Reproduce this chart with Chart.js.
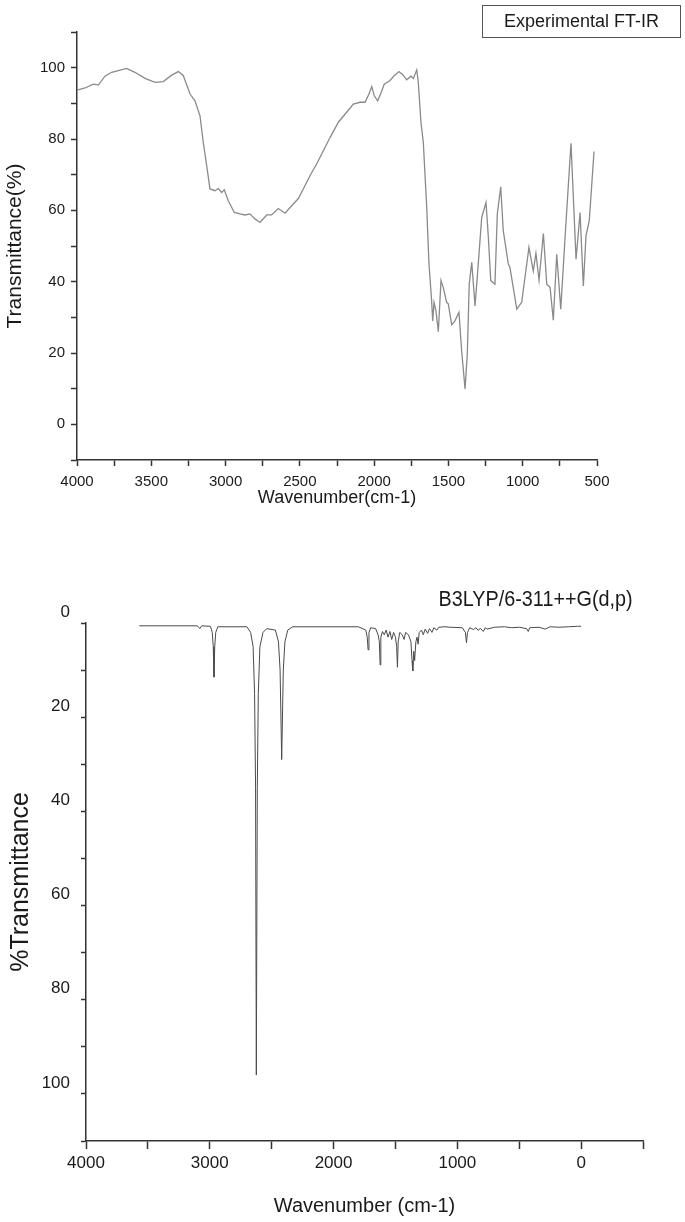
<!DOCTYPE html>
<html>
<head>
<meta charset="utf-8">
<script src="https://cdn.jsdelivr.net/npm/chart.js@4.4.1/dist/chart.umd.min.js"></script>
<style>
  body { margin: 0; width: 685px; height: 1222px; background: #fff; position: relative; overflow: hidden; }
  canvas { position: absolute; left: 0; }
  #legendBox {
    position: absolute; left: 482px; top: 5px; width: 197px; height: 31px;
    border: 1px solid #555; box-sizing: content-box;
    font: 18px "Liberation Sans", Arial, sans-serif; color: #1a1a1a;
    display: flex; align-items: center; justify-content: center;
  }
  #calcLabel {
    position: absolute; right: 52px; top: 586px;
    font: 22px "Liberation Sans", Arial, sans-serif; color: #1a1a1a;
    white-space: nowrap; transform: scaleX(0.9); transform-origin: right center;
  }
</style>
</head>
<body>
<canvas id="expChart" width="685" height="520" style="top:0"></canvas>
<canvas id="calcChart" width="685" height="682" style="top:540px"></canvas>
<div id="legendBox">Experimental FT-IR</div>
<div id="calcLabel">B3LYP/6-311++G(d,p)</div>
<script>
// experimental FT-IR
var expWavenumber = [4000, 3946, 3890, 3856, 3812, 3767, 3722, 3666, 3610, 3542, 3475, 3419, 3363, 3318, 3285,
  3239, 3206, 3172, 3150, 3127, 3105, 3071, 3049, 3026, 3009, 2982, 2941, 2903, 2869, 2836, 2802, 2768,
  2723, 2690, 2645, 2600, 2555, 2510, 2477, 2432, 2387, 2342, 2297, 2241, 2185, 2140, 2095, 2061, 2035,
  2016, 1999, 1976, 1954, 1932, 1893, 1864, 1833, 1804, 1781, 1752, 1736, 1713, 1703, 1685, 1669, 1646,
  1631, 1613, 1606, 1597, 1584, 1568, 1550, 1535, 1512, 1501, 1478, 1456, 1429, 1411, 1388, 1373, 1360,
  1343, 1321, 1306, 1276, 1247, 1232, 1215, 1187, 1171, 1148, 1131, 1097, 1086, 1040, 1007, 958, 929,
  911, 890, 861, 838, 816, 794, 771, 744, 715, 675, 641, 614, 592, 574, 552, 520];
var expTransmittance = [93.7, 94.3, 95.4, 95.1, 97.6, 98.7, 99.2, 99.8, 98.7, 97.0, 95.9, 96.1, 97.9, 98.9, 97.8,
  92.6, 90.7, 86.5, 79.0, 72.5, 66.0, 65.5, 66.1, 65.0, 65.8, 62.7, 59.4, 59.0, 58.7, 59.0, 57.6, 56.6,
  58.7, 58.7, 60.5, 59.2, 61.3, 63.3, 66.0, 69.7, 73.0, 76.7, 80.4, 84.7, 87.5, 89.8, 90.3, 90.3, 92.6,
  94.7, 92.1, 90.7, 92.9, 95.4, 96.4, 97.8, 98.9, 97.9, 96.6, 97.6, 97.0, 99.4, 95.9, 84.7, 79.0, 60.8,
  45.0, 34.6, 29.0, 34.2, 31.8, 26.0, 40.3, 38.4, 34.2, 33.8, 27.9, 29.0, 31.4, 20.6, 9.9, 19.7, 39.3,
  45.4, 33.2, 41.2, 58.0, 62.2, 52.9, 40.3, 39.3, 59.0, 66.6, 54.3, 45.0, 44.0, 32.3, 34.2, 49.6, 43.0,
  47.9, 40.4, 53.5, 39.3, 38.4, 29.2, 47.7, 32.3, 52.4, 78.8, 46.3, 59.4, 38.8, 52.9, 57.1, 76.5];

// calculated B3LYP spectrum
var calcWavenumber = [3570, 3100, 3080, 3065, 2995, 2980, 2972, 2966, 2960, 2952, 2935, 2700, 2670, 2650,
  2638, 2630, 2624, 2616, 2608, 2595, 2570, 2540, 2470, 2445, 2432, 2419, 2406, 2393, 2370, 2330, 1800,
  1740, 1728, 1721, 1714, 1700, 1660, 1640, 1630, 1624, 1618, 1605, 1590, 1575, 1560, 1545, 1530, 1515,
  1500, 1490, 1484, 1478, 1465, 1445, 1430, 1418, 1395, 1375, 1366, 1360, 1352, 1345, 1335, 1325, 1317,
  1308, 1290, 1275, 1260, 1240, 1225, 1205, 1190, 1165, 1150, 1100, 1060, 960, 935, 926, 918, 900, 870,
  850, 830, 815, 790, 775, 760, 700, 620, 560, 500, 440, 427, 415, 340, 290, 250, 180, 100, 30, 0];
var calcTransmittance = [0.6, 0.6, 1.2, 0.6, 0.7, 2, 5, 11.5, 5, 2, 0.8, 0.8, 2, 5,
  15, 35, 96, 35, 15, 5, 2, 1.2, 1.5, 4, 10, 29, 10, 4, 1.5, 0.8, 0.8,
  1.5, 3, 5.7, 2, 1, 1.2, 2.5, 4, 8.9, 3, 1.8, 2.5, 1.5, 3, 1.8, 3.5, 2,
  3, 5, 9.4, 4, 2, 2.5, 3.5, 2, 2.5, 4, 8, 10.2, 6, 8, 4, 3, 4.5,
  2, 1.5, 2.5, 1.3, 2.2, 1.2, 2, 1, 1.5, 0.9, 0.8, 0.9, 1, 2, 4.2, 2, 1, 1.4,
  1, 1.6, 1.1, 1.8, 1, 1.3, 0.9, 0.8, 1, 0.9, 1.2, 1.8, 1, 0.9, 1.3, 0.8, 0.9, 0.8, 0.7, 0.7];

var expXLabels = [4000, 3500, 3000, 2500, 2000, 1500, 1000, 500];
var expYLabels = [0, 20, 40, 60, 80, 100];
var calcXLabels = [4000, 3000, 2000, 1000, 0];
var calcYLabels = [0, 20, 40, 60, 80, 100];

Chart.defaults.font.family = "'Liberation Sans', Arial, sans-serif";
Chart.defaults.color = '#1a1a1a';

function toPoints(xs, ys) {
  return xs.map(function (x, i) { return { x: x, y: ys[i] }; });
}

var axisLine = { display: true, color: '#333', width: 1.5 };

new Chart(document.getElementById('expChart'), {
  type: 'line',
  data: {
    datasets: [{
      data: toPoints(expWavenumber, expTransmittance),
      borderColor: '#8a8a8a',
      borderWidth: 1.3,
      pointRadius: 0,
      tension: 0
    }]
  },
  options: {
    responsive: false,
    animation: false,
    layout: { padding: { left: 0, right: 88, top: 32, bottom: 0 } },
    plugins: { legend: { display: false }, tooltip: { enabled: false } },
    scales: {
      x: {
        type: 'linear', reverse: true, min: 500, max: 4000,
        afterFit: function (s) { s.height = 60; },
        border: axisLine,
        grid: { drawOnChartArea: false, tickLength: 6, tickColor: '#333', tickWidth: 1.5 },
        ticks: {
          stepSize: 250, autoSkip: false, maxRotation: 0, padding: 7,
          font: { size: 15 },
          callback: function (v) { return expXLabels.indexOf(v) >= 0 ? v : ''; }
        },
        title: { display: true, text: 'Wavenumber(cm-1)', font: { size: 18 }, padding: { top: 0, bottom: 11 } }
      },
      y: {
        min: -10, max: 110,
        afterFit: function (s) { s.width = 77; },
        border: axisLine,
        grid: { drawOnChartArea: false, tickLength: 6, tickColor: '#333', tickWidth: 1.5 },
        ticks: {
          stepSize: 10, autoSkip: false, padding: 6,
          font: { size: 15 },
          callback: function (v) { return expYLabels.indexOf(v) >= 0 ? v : ''; }
        },
        title: { display: true, text: 'Transmittance(%)', font: { size: 21 }, padding: { top: 3, bottom: 0 } }
      }
    }
  }
});

new Chart(document.getElementById('calcChart'), {
  type: 'line',
  data: {
    datasets: [{
      data: toPoints(calcWavenumber, calcTransmittance),
      borderColor: '#4a4a4a',
      borderWidth: 1,
      pointRadius: 0,
      tension: 0
    }]
  },
  options: {
    responsive: false,
    animation: false,
    layout: { padding: { left: 0, right: 42, top: 83, bottom: 0 } },
    plugins: { legend: { display: false }, tooltip: { enabled: false } },
    scales: {
      x: {
        type: 'linear', reverse: true, min: -500, max: 4000,
        afterFit: function (s) { s.height = 81; },
        border: axisLine,
        grid: { drawOnChartArea: false, tickLength: 8, tickColor: '#333', tickWidth: 1.5 },
        ticks: {
          stepSize: 500, autoSkip: false, maxRotation: 0, padding: 4,
          font: { size: 17 },
          callback: function (v) { return calcXLabels.indexOf(v) >= 0 ? v : ''; }
        },
        title: { display: true, text: 'Wavenumber (cm-1)', font: { size: 20 }, padding: { top: 0, bottom: 4 } }
      },
      y: {
        reverse: true, min: 0, max: 110,
        afterFit: function (s) { s.width = 86; },
        border: axisLine,
        grid: { drawOnChartArea: false, tickLength: 5, tickColor: '#333', tickWidth: 1.5 },
        ticks: {
          stepSize: 10, autoSkip: false, padding: 11, labelOffset: -11,
          font: { size: 17 },
          callback: function (v) { return calcYLabels.indexOf(v) >= 0 ? v : ''; }
        },
        title: { display: true, text: '%Transmittance', font: { size: 25 }, padding: { top: 6, bottom: 0 } }
      }
    }
  }
});
</script>
</body>
</html>
